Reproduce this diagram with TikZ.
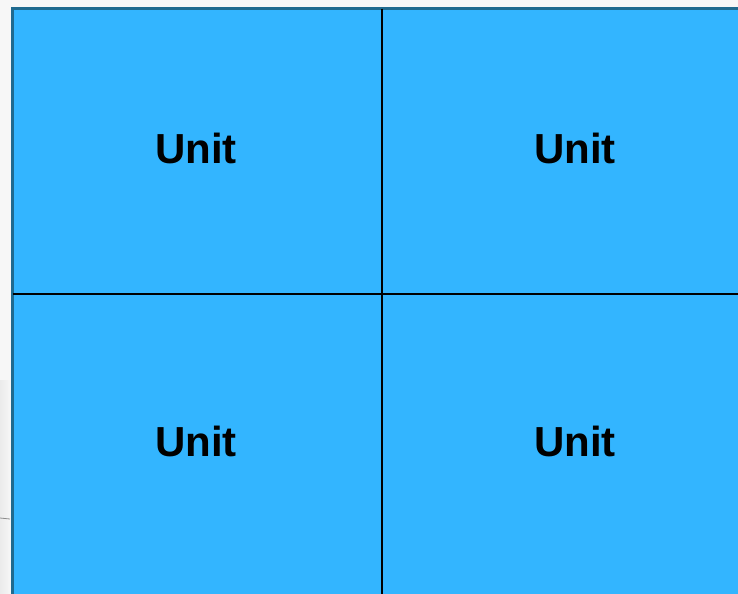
\documentclass[tikz,border=0pt]{standalone}
\usepackage{fontspec}
\setmainfont{Liberation Sans}
\definecolor{bg}{HTML}{F7F7F7}
\definecolor{cellblue}{HTML}{33B5FF}
\definecolor{frame}{HTML}{1F6A8F}
\tikzset{
  unitlabel/.style={font=\fontsize{31.5}{37}\selectfont\bfseries, text=black},
  divider/.style={draw=black, line width=1.2pt}
}
\begin{document}
\begin{tikzpicture}[x=0.75pt,y=-0.75pt]
\useasboundingbox (0,0) rectangle (738,593);
\fill[bg] (0,0) rectangle (738,593);
\fill[left color=black!8, right color=bg] (0,380) rectangle (11,593);
\draw[black!45, line width=0.6pt] (0,518) -- (10,519);
\fill[cellblue] (12.5,8.5) rectangle (745,600);
\draw[frame, line width=2.6pt] (12.5,600) -- (12.5,8.5) -- (745,8.5);
\coordinate (vt) at (382,8.5);
\coordinate (vb) at (382,600);
\coordinate (hl) at (12.5,294);
\coordinate (hr) at (745,294);
\draw[divider] (vt) -- (vb);
\draw[divider] (hl) -- (hr);
\node[unitlabel] (u1) at (196,148) {Unit};
\node[unitlabel] (u2) at (575,148) {Unit};
\node[unitlabel] (u3) at (196,441) {Unit};
\node[unitlabel] (u4) at (575,441) {Unit};
\end{tikzpicture}
\end{document}
